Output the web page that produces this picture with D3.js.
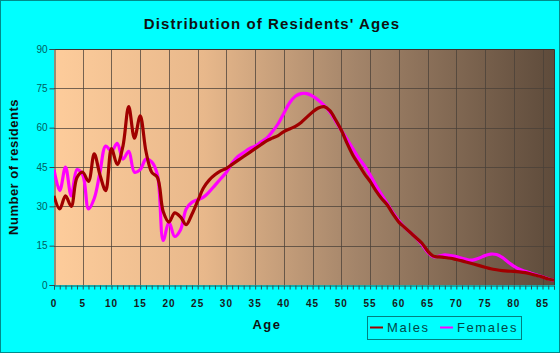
<!DOCTYPE html>
<html><head><meta charset="utf-8">
<script src="https://cdn.jsdelivr.net/npm/d3@7"></script>
<style>html,body{margin:0;padding:0;background:#00ffff;}svg{display:block;}</style>
</head><body>
<svg id="c" width="560" height="353"></svg>
<script>
const ages = d3.range(0, 88);
const males = [34,29,34,30,41,43,39.5,50,42,36,52,46,53,68,56,64.5,51,43,41,28,24,27.5,26,23,27,32,37,40,42,43.5,44.5,46,47.5,49,50.5,52,53.5,55,56,57,58.5,59.5,60.5,62,64,66,67.5,68,66.5,63,59,54,49.5,46,42.5,39.5,36,33,30.5,27,24,22,20,18,16,13,11,10.7,10.5,10.2,9.7,9.2,8.6,8,7.4,6.8,6.2,5.8,5.5,5.3,5.2,5,4.7,4.2,3.6,3,2.3,1.8];
const females = [44,36,45,34,44,42,29,33,43,53,51,54,48,51,43,44,48,47,42,17,24,18.5,21,29,31.5,32.5,33.5,35.5,38,40.5,43,46.5,49,50.5,52,53,54.5,56,58.5,61.5,65.5,69.5,72,73,73,72,70.5,68.5,66,62.5,59,55.5,52,48.5,45.5,42,38,34.5,31,27.5,24.5,22,20,18,15.5,12.5,10.8,11,11.5,11.2,10.8,10.2,9.6,9.6,10.3,11.2,11.8,11.6,10.5,8.8,7.2,6,5.2,4.5,3.8,3.1,2.4,1.8];
const yTicks = [0,15,30,45,60,75,90];
const xTicks = d3.range(0, 86, 5);
const seriesNames = ["Males","Females"];
const seriesColors = ["#a00000","#ff00ff"];

const svg = d3.select("#c");
const L = 54, R = 554, T = 49, B = 285;
const x = d3.scaleLinear().domain([0, 87]).range([L, R]);
const y = d3.scaleLinear().domain([0, 90]).range([B, T]);

svg.append("rect").attr("x",0.5).attr("y",0.5).attr("width",559).attr("height",352)
  .attr("fill","#00ffff").attr("stroke","#008b8b").attr("stroke-width",1);

const defs = svg.append("defs");
const g = defs.append("linearGradient").attr("id","bg").attr("x1","0").attr("x2","1").attr("y1","0").attr("y2","0");
g.append("stop").attr("offset","0").attr("stop-color","#fdcc9b");
g.append("stop").attr("offset","0.3").attr("stop-color","#e8b88b");
g.append("stop").attr("offset","0.6").attr("stop-color","#a4856a");
g.append("stop").attr("offset","1").attr("stop-color","#5e4b3b");
defs.append("clipPath").attr("id","clip").append("rect").attr("x",L).attr("y",T).attr("width",R-L).attr("height",B-T);

svg.append("rect").attr("x",L).attr("y",T).attr("width",R-L).attr("height",B-T).attr("fill","url(#bg)");

svg.append("g").selectAll("line").data(xTicks.filter(d=>d>0)).join("line")
  .attr("x1",d=>Math.round(x(d))+0.5).attr("x2",d=>Math.round(x(d))+0.5).attr("y1",T).attr("y2",B)
  .attr("stroke","#4a4038").attr("stroke-opacity",0.75).attr("stroke-width",1);
svg.append("g").selectAll("line").data(yTicks.filter(d=>d>0)).join("line")
  .attr("x1",L).attr("x2",R).attr("y1",d=>Math.round(y(d))+0.5).attr("y2",d=>Math.round(y(d))+0.5)
  .attr("stroke","#4a4038").attr("stroke-opacity",0.75).attr("stroke-width",1);
svg.append("path").attr("d",`M${L},${T+0.5}H${R+0.5}V${B}`).attr("fill","none").attr("stroke","#3c3630").attr("stroke-width",1);

const yAxis = d3.axisLeft(y).tickValues(yTicks).tickSize(5).tickPadding(2);
const ya = svg.append("g").attr("transform",`translate(${L+0.5},0)`).call(yAxis);
ya.select(".domain").attr("stroke","#2f4f4f");
ya.selectAll(".tick line").attr("stroke","#2f4f4f");
ya.selectAll("text").attr("fill","#006060").attr("font-family","Liberation Sans, Arial, sans-serif").attr("font-size","10px");

const xAxis = d3.axisBottom(x).tickValues(d3.range(0, 88)).tickSize(4).tickFormat(()=> "");
const xa = svg.append("g").attr("transform",`translate(0,${B+0.5})`).call(xAxis);
xa.select(".domain").attr("stroke","#2f4f4f");
xa.selectAll(".tick line").attr("stroke","#2f4f4f");
svg.append("g").selectAll("text").data(xTicks).join("text")
  .attr("x",d=>x(d)).attr("y",B+22).attr("text-anchor","middle")
  .attr("font-family","Liberation Sans, Arial, sans-serif").attr("font-size","10px").attr("font-weight","bold")
  .attr("letter-spacing","1px").attr("fill","#1a1a1a").text(d=>d);

const line = d3.line().x((d,i)=>x(ages[i])).y(d=>y(d)).curve(d3.curveCatmullRom.alpha(0.5));
const plot = svg.append("g").attr("clip-path","url(#clip)");
plot.append("path").attr("d",line(females)).attr("fill","none").attr("stroke",seriesColors[1]).attr("stroke-width",3.2).attr("stroke-linejoin","round");
plot.append("path").attr("d",line(males)).attr("fill","none").attr("stroke",seriesColors[0]).attr("stroke-width",3.2).attr("stroke-linejoin","round");

svg.append("text").attr("x",272).attr("y",29).attr("text-anchor","middle")
  .attr("font-family","Liberation Sans, Arial, sans-serif").attr("font-size","15px").attr("font-weight","bold")
  .attr("letter-spacing","1.1px").attr("fill","#111").text("Distribution of Residents' Ages");
svg.append("text").attr("x",267).attr("y",329).attr("text-anchor","middle")
  .attr("font-family","Liberation Sans, Arial, sans-serif").attr("font-size","13px").attr("font-weight","bold")
  .attr("letter-spacing","1.5px").attr("fill","#111").text("Age");
svg.append("text").attr("transform","translate(18,167) rotate(-90)").attr("text-anchor","middle")
  .attr("font-family","Liberation Sans, Arial, sans-serif").attr("font-size","13px").attr("font-weight","bold")
  .attr("letter-spacing","0.5px").attr("fill","#111").text("Number of residents");

const lg = svg.append("g");
lg.append("rect").attr("x",367.5).attr("y",316.5).attr("width",154).attr("height",23).attr("fill","none").attr("stroke","#008080").attr("stroke-width",1);
const items = [{n:seriesNames[0],c:seriesColors[0],x:370},{n:seriesNames[1],c:seriesColors[1],x:440}];
items.forEach(it=>{
  lg.append("line").attr("x1",it.x).attr("x2",it.x+13).attr("y1",327.5).attr("y2",327.5).attr("stroke",it.c).attr("stroke-width",2);
  lg.append("text").attr("x",it.x+17).attr("y",332).attr("font-family","Liberation Sans, Arial, sans-serif")
    .attr("font-size","13px").attr("letter-spacing","1.6px").attr("fill","#004848").text(it.n);
});
</script>
</body></html>
